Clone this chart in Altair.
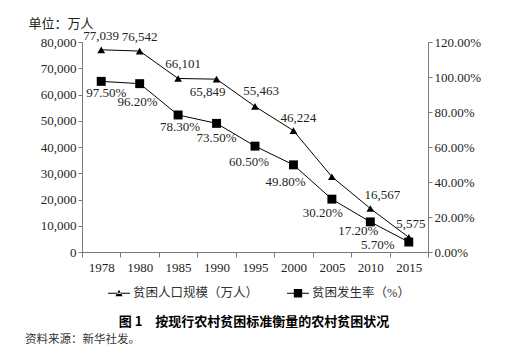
import altair as alt
import pandas as pd

# ---------------- data ----------------
years = ["1978", "1980", "1985", "1990", "1995", "2000", "2005", "2010", "2015"]
population = [77039, 76542, 66101, 65849, 55463, 46224, 28662, 16567, 5575]  # 万人
rate_pct = [97.5, 96.2, 78.3, 73.5, 60.5, 49.8, 30.2, 17.2, 5.7]  # %
pop_labelled_years = ["1978", "1980", "1985", "1990", "1995", "2000", "2010", "2015"]
series_names = ["贫困人口规模（万人）", "贫困发生率（%）"]
left_ticks = [0, 10000, 20000, 30000, 40000, 50000, 60000, 70000, 80000]
right_ticks = [0, 0.2, 0.4, 0.6, 0.8, 1.0, 1.2]
unit_text = "单位：万人"
title_text = "图 1　按现行农村贫困标准衡量的农村贫困状况"
source_text = "资料来源：新华社发。"

# ---------------- layout / style ----------------
W, H = 346, 210
PAD = {"left": 82, "top": 42, "right": 84, "bottom": 105}
NUM_FONT = "Liberation Serif, Noto Sans CJK SC"
CJK_FONT = "Noto Sans CJK SC"
TXT = "#231f20"
AX = "#7a7a7a"

# label offsets (dx, dy) per year
POP_OFFSETS = {"1978": (0, -14), "1980": (0, -14), "1985": (5, -14), "1990": (-9, 13),
               "1995": (6, -15), "2000": (5, -13), "2010": (12, -14), "2015": (2, -13)}
RATE_OFFSETS = {"1978": (5, 12), "1980": (-2, 18), "1985": (2, 12), "1990": (0, 15),
                "1995": (-6, 16), "2000": (-8, 17), "2005": (-9, 14), "2010": (-12, 9),
                "2015": (-31, 3)}

df = pd.DataFrame({
    "year": years,
    "population": population,
    "rate": [r / 100 for r in rate_pct],
})

x_enc = alt.X("year:O", sort=years,
              scale=alt.Scale(type="band", paddingInner=0, paddingOuter=0),
              axis=alt.Axis(title=None, labelAngle=0, tickBand="extent",
                            labelFont=NUM_FONT, labelFontSize=13, labelColor=TXT,
                            labelPadding=4, tickSize=5, tickColor=AX, domainColor=AX,
                            grid=False))

y_pop = alt.Y("population:Q",
              scale=alt.Scale(domain=[0, 80000], nice=False, zero=True),
              axis=alt.Axis(values=left_ticks, format=",.0f", grid=False, labelOverlap=False,
                            title=unit_text, titleAngle=0, titleAlign="left",
                            titleBaseline="middle", titleX=-54, titleY=-19,
                            titleFont=CJK_FONT, titleFontSize=13, titleFontWeight="normal",
                            titleColor=TXT,
                            labelFont=NUM_FONT, labelFontSize=13, labelColor=TXT,
                            labelPadding=2, tickSize=4, tickColor=AX, domainColor=AX))

y_rate = alt.Y("rate:Q",
               scale=alt.Scale(domain=[0, 1.2], nice=False, zero=True),
               axis=alt.Axis(orient="right", values=right_ticks, format=".2%", grid=False,
                             title=None, labelOverlap=False,
                             labelFont=NUM_FONT, labelFontSize=13, labelColor=TXT,
                             labelPadding=2, tickSize=4, tickColor=AX, domainColor=AX))

base = alt.Chart(df)


def label_layers(offsets, field, fmt, y_enc):
    groups = {}
    for yr, off in offsets.items():
        groups.setdefault(off, []).append(yr)
    layers = []
    for (dx, dy), yrs in groups.items():
        layers.append(
            base.transform_filter(alt.FieldOneOfPredicate(field="year", oneOf=yrs))
            .mark_text(font=NUM_FONT, fontSize=13, color=TXT, dx=dx, dy=dy,
                       align="center", baseline="middle")
            .encode(x=x_enc, y=y_enc, text=alt.Text(field, format=fmt))
        )
    return layers


pop_line = base.mark_line(color="black", strokeWidth=1).encode(x=x_enc, y=y_pop)
pop_pts = base.mark_point(shape="triangle-up", filled=True, color="black", size=60,
                          opacity=1).encode(x=x_enc, y=y_pop)
pop_layer = alt.layer(pop_line, pop_pts,
                      *label_layers({k: v for k, v in POP_OFFSETS.items() if k in pop_labelled_years},
                                    "population:Q", ",.0f", y_pop))

rate_line = base.mark_line(color="black", strokeWidth=1).encode(x=x_enc, y=y_rate)
rate_pts = base.mark_point(shape="square", filled=True, color="black", size=80,
                           opacity=1).encode(x=x_enc, y=y_rate)
rate_layer = alt.layer(rate_line, rate_pts,
                       *label_layers(RATE_OFFSETS, "rate:Q", ".2%", y_rate))

# legend (line + marker symbols)
tri_path = "M-1,-0.05L1,-0.05L1,0.05L-1,0.05Z M-0.33,0.28L0.33,0.28L0,-0.32Z"
sq_path = "M-1,-0.05L1,-0.05L1,0.05L-1,0.05Z M-0.38,-0.38L0.38,-0.38L0.38,0.38L-0.38,0.38Z"
legend_df = pd.DataFrame({"series": series_names})
legend_layer = alt.Chart(legend_df).mark_point(filled=True, opacity=0, color="black").encode(
    shape=alt.Shape("series:N",
                    scale=alt.Scale(domain=series_names, range=[tri_path, sq_path]),
                    legend=alt.Legend(title=None, orient="none", legendX=26, legendY=240,
                                      direction="horizontal", symbolSize=484,
                                      symbolFillColor="black", symbolStrokeWidth=0,
                                      symbolOpacity=1, labelFont=NUM_FONT,
                                      labelFontSize=12.5, labelColor="#333333",
                                      labelOffset=3, columnPadding=28, padding=0))
)

note_df = pd.DataFrame({"t": [title_text, source_text]})
title_layer = alt.Chart(note_df).transform_filter(alt.datum.t == title_text).mark_text(
    font=CJK_FONT, fontSize=13, fontWeight="bold", color="black", align="center",
    baseline="middle"
).encode(x=alt.value(W / 2 - 1), y=alt.value(280), text="t:N")
source_layer = alt.Chart(note_df).transform_filter(alt.datum.t == source_text).mark_text(
    font=CJK_FONT, fontSize=11.5, color="#333333", align="left", baseline="middle"
).encode(x=alt.value(-57), y=alt.value(298), text="t:N")

chart = alt.layer(pop_layer, rate_layer, legend_layer, title_layer, source_layer).resolve_scale(
    y="independent"
).properties(
    width=W, height=H,
    autosize=alt.AutoSizeParams(type="none"),
    padding=PAD,
).configure_view(stroke=None)

chart.save("out.html", embed_options={"renderer": "svg", "actions": False})
